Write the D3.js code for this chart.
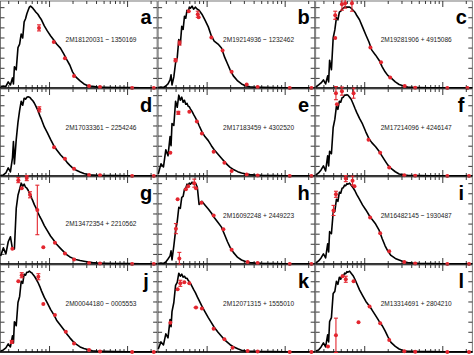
<!DOCTYPE html>
<html><head><meta charset="utf-8">
<script src="https://cdn.jsdelivr.net/npm/d3@7"></script>
<style>html,body{margin:0;padding:0;background:#fff;} svg{display:block;}</style>
</head><body><svg id="chart" width="474" height="355"></svg>
<script>
// Wavelength grid (micron) shared by all model spectra
const GRID = [0.24,0.26,0.28,0.30,0.32,0.34,0.35,0.36,0.38,0.40,
  0.42,0.44,0.46,0.48,0.50,0.52,0.54,0.56,0.58,0.60,
  0.62,0.65,0.68,0.72,0.76,0.80,0.87,0.95,1.05,1.15,
  1.25,1.4,1.55,1.7,1.85,2.0,2.2,2.5,2.8,3.2,
  3.6,4.2,5.0,7.0,10,15,24];

const PANEL_LETTERS = ["a","b","c","d","e","f","g","h","i","j","k","l"];
const STAR_NAMES = ["2M18120031 \u2212 1350169","2M19214936 \u2212 1232462","2M19281906 + 4915086",
  "2M17033361 \u2212 2254246","2M17183459 + 4302520","2M17214096 + 4246147",
  "2M13472354 + 2210562","2M16092248 + 2449223","2M16482145 \u2212 1930487",
  "2M00044180 \u2212 0005553","2M12071315 + 1555010","2M13314691 + 2804210"];

// Model spectra (flux, arbitrary units) on GRID
const SPEC_A = [0.15,0.2,0.15,0.6,0.3,1.0,0.4,2.1,1.8,4.0, 4.35,5.35,4.95,6.55,6.85,7.35,7.7,8.0,8.1,8.0, 7.9,7.7,7.5,7.3,7.0,6.75,6.15,5.65,5.15,4.75, 4.35,3.95,3.35,2.75,2.25,1.6,1.1,0.7,0.4,0.2, 0.17,0.1,0.08,0.05,0.04,0.03,0.02];
const SPEC_B = [0.05,0.1,0.05,0.2,0.4,0.8,1.3,0.3,1.1,2.5, 3.0,4.8,4.3,6.1,5.8,7.1,6.9,7.7,7.5,8.0, 7.9,8.1,7.8,8.0,7.8,7.7,7.3,6.75,6.05,5.15, 4.65,4.35,3.95,3.05,2.4,1.8,1.2,0.7,0.4,0.2, 0.12,0.08,0.06,0.04,0.03,0.02,0.02];
const SPEC_C = [0.1,0.3,0.5,0.8,0.4,1.2,0.6,2.75,1.8,4.95, 5.75,6.95,6.75,7.5,7.6,7.8,7.9,8.0,8.0,8.0, 8.0,8.0,7.9,7.7,7.5,7.2,6.75,6.05,5.25,4.55, 3.75,3.25,2.75,2.1,1.6,1.25,1.0,0.6,0.35,0.2, 0.1,0.07,0.05,0.03,0.02,0.02,0.02];
const SPEC_D = [0.05,0.1,0.3,0.8,0.4,1.8,3.4,1.2,3.6,5.3, 6.5,7.4,7.0,7.7,7.6,7.8,7.85,7.8,7.7,7.55, 7.45,7.2,6.9,6.5,6.0,5.6,4.85,4.3,3.6,3.0, 2.6,2.1,1.75,1.35,1.05,0.8,0.6,0.4,0.25,0.13, 0.1,0.07,0.05,0.04,0.03,0.02,0.02];
const SPEC_E = [0.2,1.2,0.9,2.6,2.0,3.9,3.0,5.2,5.0,7.4, 6.8,8.0,7.5,7.8,7.3,7.5,7.1,7.2,6.9,6.85, 6.65,6.4,6.1,5.75,5.4,5.0,4.4,3.9,3.5,3.0, 2.6,2.15,1.75,1.4,1.1,0.85,0.65,0.43,0.3,0.2, 0.15,0.1,0.07,0.05,0.03,0.02,0.02];
const SPEC_F = [0.1,0.3,0.6,1.0,0.5,2.0,1.0,2.45,2.2,4.8, 5.6,6.9,6.6,7.4,7.3,7.75,7.8,8.0,8.0,8.05, 8.0,7.8,7.6,7.15,6.7,6.3,5.7,5.15,4.35,3.7, 3.3,2.9,2.45,1.95,1.5,1.1,0.75,0.42,0.2,0.1, 0.07,0.05,0.04,0.03,0.02,0.02,0.02];
const SPEC_G = [0.8,1.6,1.0,2.2,2.7,1.5,1.5,1.5,5.5,6.8, 7.4,8.0,7.7,7.9,7.6,7.5,7.3,7.0,6.8,6.5, 6.25,5.85,5.55,5.1,4.7,4.4,3.8,3.3,2.75,2.35, 1.95,1.55,1.2,0.9,0.7,0.58,0.45,0.35,0.28,0.2, 0.15,0.1,0.08,0.05,0.04,0.03,0.02];
const SPEC_H = [0.05,0.1,0.05,0.2,0.5,0.8,1.3,0.4,1.8,3.3, 4.2,5.6,5.5,6.6,6.7,7.4,7.5,7.9,7.8,8.0, 7.9,8.1,7.9,8.0,7.6,5.9,6.2,5.85,5.45,5.05, 4.6,4.1,3.65,2.9,2.2,1.65,1.15,0.65,0.4,0.22, 0.15,0.1,0.07,0.05,0.03,0.02,0.02];
const SPEC_I = [0.1,0.3,0.6,1.0,0.6,2.0,1.2,3.2,3.0,5.1, 5.2,6.4,6.2,7.1,7.0,7.5,7.55,7.8,7.75,7.95, 7.9,8.0,7.8,7.55,7.25,6.9,6.4,5.85,5.35,4.85, 4.45,3.95,3.35,2.5,1.8,1.3,0.85,0.55,0.4,0.22, 0.15,0.1,0.07,0.05,0.03,0.02,0.02];
const SPEC_J = [0.1,0.2,0.4,0.8,0.5,1.6,0.9,3.0,2.6,4.9, 5.5,7.0,6.8,7.7,7.6,7.9,7.9,8.0,7.9,7.85, 7.7,7.5,7.25,6.9,6.5,6.05,5.4,4.85,4.2,3.7, 3.15,2.65,2.2,1.75,1.4,1.1,0.8,0.5,0.35,0.22, 0.12,0.08,0.06,0.04,0.03,0.02,0.02];
const SPEC_K = [0.3,1.0,0.7,1.8,1.4,3.2,2.5,4.0,4.9,6.6, 6.9,7.8,7.5,7.7,7.4,7.5,7.3,7.3,7.1,6.95, 6.8,6.5,6.2,5.85,5.45,5.1,4.55,4.0,3.4,2.9, 2.45,1.95,1.55,1.2,0.95,0.72,0.52,0.32,0.18,0.1, 0.08,0.06,0.05,0.04,0.03,0.02,0.02];
const SPEC_L = [0.1,0.2,0.5,0.9,0.5,1.7,1.0,3.0,3.4,5.8, 6.0,7.0,6.7,7.4,7.2,7.6,7.5,7.8,7.75,7.95, 7.9,8.0,7.8,7.55,7.2,6.8,6.15,5.6,5.0,4.6, 4.2,3.6,3.05,2.6,2.1,1.55,0.95,0.55,0.3,0.12, 0.08,0.06,0.05,0.04,0.03,0.02,0.02];

// Photometry: [wavelength, flux, flux error, (wavelength error)]
const PTS_A = [[0.744,5.95,0.3],[1.15,4.55,0],[1.6,2.95,0],[2.09,1.2,0],[3.26,0.2,0],[4.5,0.1,0],[11.6,0,0],[22,0,0]];
const PTS_B = [[0.40,2.75,0.15],[0.45,4.45,0.2],[0.59,7.6,0],[0.77,7.3,0.3],[0.79,7.0,0],[1.15,5.0,0],[1.6,3.7,0],[2.09,1.6,0],[3.26,0.35,0],[4.5,0.1,0],[11.6,0,0],[22,0,0]];
const PTS_C = [[0.425,4.95,0],[0.425,7.2,0.4],[0.518,8.3,0.6],[0.57,8.4,0.5],[0.696,8.4,0.8],[1.2,4.0,0],[1.64,2.55,0],[2.15,1.05,0],[3.3,0.2,0],[4.5,0.03,0],[11.6,0,0],[21,0,0]];
const PTS_D = [[0.75,6.6,0.25],[1.16,2.85,0],[1.6,1.7,0],[2.09,0.72,0],[3.26,0.1,0],[4.5,0.07,0],[11.6,0,0],[22,0,0]];
const PTS_E = [[0.343,2.3,0],[0.434,6.25,0.15],[0.60,6.35,0],[0.75,5.4,0],[0.87,4.2,0],[1.23,2.4,0],[1.69,1.3,0],[2.09,0.5,0],[3.26,0.15,0],[4.5,0.05,0],[11.6,0,0],[22,0,0]];
const PTS_F = [[0.434,8.2,0.65],[0.447,7.1,0],[0.518,8.4,0.4],[0.73,8.2,0.5],[1.135,3.6,0],[1.6,2.3,0],[2.09,0.85,0],[3.26,0.07,0],[4.5,0.03,0],[11.6,0,0],[22,0,0]];
const PTS_G = [[0.339,1.5,0],[0.404,8.3,0.25],[0.447,7.5,0],[0.518,8.5,0.25],[0.57,6.85,0.3],[0.708,5.35,2.45],[0.845,1.65,0],[1.19,2.1,0],[1.6,1.05,0],[2.09,0.45,0],[3.26,0.1,0],[4.5,0.05,0],[11.6,0,0],[22,0,0]];
const PTS_H = [[0.447,0.55,0.6],[0.404,3.5,0.5],[0.425,6.4,0],[0.543,7.4,0],[0.58,7.7,0],[0.695,8.0,0.4],[0.73,7.5,0],[0.86,6.05,0],[1.23,4.8,0],[1.64,3.45,0],[2.09,1.4,0],[3.35,0.2,0],[4.5,0.1,0],[11.6,0,0],[22,0,0]];
const PTS_I = [[0.404,5.3,0.5],[0.434,6.9,0.3],[0.58,8.45,0.3],[0.708,8.25,0.45],[0.75,7.7,0],[1.19,4.6,0],[1.6,3.05,0],[2.09,1.25,0],[3.26,0.2,0],[4.5,0.05,0],[11.6,0,0],[22,0,0]];
const PTS_J = [[0.333,1.0,0.15],[0.404,7.0,0],[0.447,7.6,0.25],[0.73,7.45,0.3],[0.845,4.75,0],[1.19,3.65,0],[1.64,2.0,0],[2.09,0.85,0],[3.26,0.2,0],[4.5,0.05,0],[11.6,0,0],[22,0,0]];
const PTS_K = [[0.343,2.9,0],[0.425,6.2,0],[0.46,6.8,0.3],[0.518,6.9,0],[0.60,6.8,0],[0.73,4.4,0,0.05],[0.87,4.3,0],[1.23,2.3,0],[1.69,1.25,0],[2.15,0.43,0],[3.35,0.1,0],[4.5,0.05,0],[11.6,0,0],[22,0,0]];
const PTS_L = [[0.343,0.55,0],[0.434,1.65,1.7],[0.527,7.5,0],[0.58,7.2,0.3],[0.73,7.0,0],[0.845,2.95,0],[1.17,4.5,0],[1.6,2.85,0],[2.09,1.2,0],[3.26,0.07,0],[4.5,0.03,0],[11.6,0,0],[22,0,0]];

// Axis ticks
const X_MAJOR = [1, 10];
const X_MINOR = [0.3,0.4,0.5,0.6,0.7,0.8,0.9,2,3,4,5,6,7,8,9,20];
const Y_TICKS = [1,2,3,4,5,6,7,8];

const SPECTRA = [SPEC_A,SPEC_B,SPEC_C,SPEC_D,SPEC_E,SPEC_F,SPEC_G,SPEC_H,SPEC_I,SPEC_J,SPEC_K,SPEC_L];
const POINTS = [PTS_A,PTS_B,PTS_C,PTS_D,PTS_E,PTS_F,PTS_G,PTS_H,PTS_I,PTS_J,PTS_K,PTS_L];

// ---- layout / style ----
const PW = 157.6, PH = 88;
const X_DOMAIN = [0.2354, 24.6];
const Y_DOMAIN = [0, 8.66];
const RED = "#e3262f";
const FONT = "'Liberation Sans', Arial, Helvetica, sans-serif";
const LABEL_DROP = {6: 8};

const svg = d3.select("#chart");
svg.append("rect").attr("width",474).attr("height",355).attr("fill","#fff");

SPECTRA.forEach((spec, i) => {
  const c = i % 3, r = Math.floor(i / 3);
  const x0 = c * PW, y0 = r * PH;
  const x = d3.scaleLog().domain(X_DOMAIN).range([x0, x0 + PW]);
  const y = d3.scaleLinear().domain(Y_DOMAIN).range([y0 + PH, y0 + 0.5]);
  const g = svg.append("g");

  g.append("rect").attr("x", x0 + 0.5).attr("y", y0 + 1).attr("width", PW - 1).attr("height", PH - 1)
    .attr("fill", "none").attr("stroke", "#555").attr("stroke-width", 0.8);

  const mk = (axis, tx, ty) => {
    const a = g.append("g").attr("transform", `translate(${tx},${ty})`).call(axis);
    a.select(".domain").remove();
    a.selectAll("text").remove();
    a.selectAll("line").attr("stroke", "#222").attr("stroke-width", 0.9);
  };
  mk(d3.axisBottom(x).tickValues(X_MAJOR).tickSize(-6), 0, y0 + PH);
  mk(d3.axisBottom(x).tickValues(X_MINOR).tickSize(-3), 0, y0 + PH);
  mk(d3.axisTop(x).tickValues(X_MAJOR).tickSize(-6), 0, y0 + 1);
  mk(d3.axisTop(x).tickValues(X_MINOR).tickSize(-3), 0, y0 + 1);
  mk(d3.axisLeft(y).tickValues(Y_TICKS).tickSize(-4), x0 + 0.5, 0);
  mk(d3.axisRight(y).tickValues(Y_TICKS).tickSize(-4), x0 + PW - 0.5, 0);

  g.append("line").attr("x1", x0).attr("x2", x0 + PW).attr("y1", y(0)).attr("y2", y(0))
    .attr("stroke", "#000").attr("stroke-width", 1.3);

  const line = d3.line().x(d => x(d[0])).y(d => y(d[1]));
  g.append("path").datum(GRID.map((l, j) => [l, spec[j]]))
    .attr("d", line).attr("fill", "none").attr("stroke", "#000")
    .attr("stroke-width", 1.6).attr("stroke-linejoin", "round");

  const pg = g.append("g").attr("stroke", RED).attr("fill", RED);
  POINTS[i].forEach(p => {
    const px = x(p[0]), py = y(p[1]);
    if (p[2] > 0) {
      const ya = y(p[1] - p[2]), yb = y(p[1] + p[2]);
      pg.append("line").attr("x1", px).attr("x2", px).attr("y1", ya).attr("y2", yb).attr("stroke-width", 1.1);
      pg.append("line").attr("x1", px - 2).attr("x2", px + 2).attr("y1", ya).attr("y2", ya).attr("stroke-width", 1.1);
      pg.append("line").attr("x1", px - 2).attr("x2", px + 2).attr("y1", yb).attr("y2", yb).attr("stroke-width", 1.1);
    }
    if (p[3]) {
      const xa = x(p[0] - p[3]), xb = x(p[0] + p[3]);
      pg.append("line").attr("x1", xa).attr("x2", xb).attr("y1", py).attr("y2", py).attr("stroke-width", 1.3);
    }
    pg.append("circle").attr("cx", px).attr("cy", py).attr("r", 2).attr("stroke", "none");
  });

  g.append("text").attr("x", x0 + 146).attr("y", y0 + 24)
    .attr("text-anchor", "middle").attr("font-family", FONT).attr("font-weight", "bold")
    .attr("font-size", 20).attr("fill", "#000").text(PANEL_LETTERS[i]);
  g.append("text").attr("x", x0 + 101).attr("y", y0 + 42 + (LABEL_DROP[i] || 0))
    .attr("text-anchor", "middle").attr("font-family", FONT).attr("font-size", 8)
    .attr("textLength", 71).attr("lengthAdjust", "spacingAndGlyphs")
    .attr("fill", "#222").text(STAR_NAMES[i]);
});
</script></body></html>
